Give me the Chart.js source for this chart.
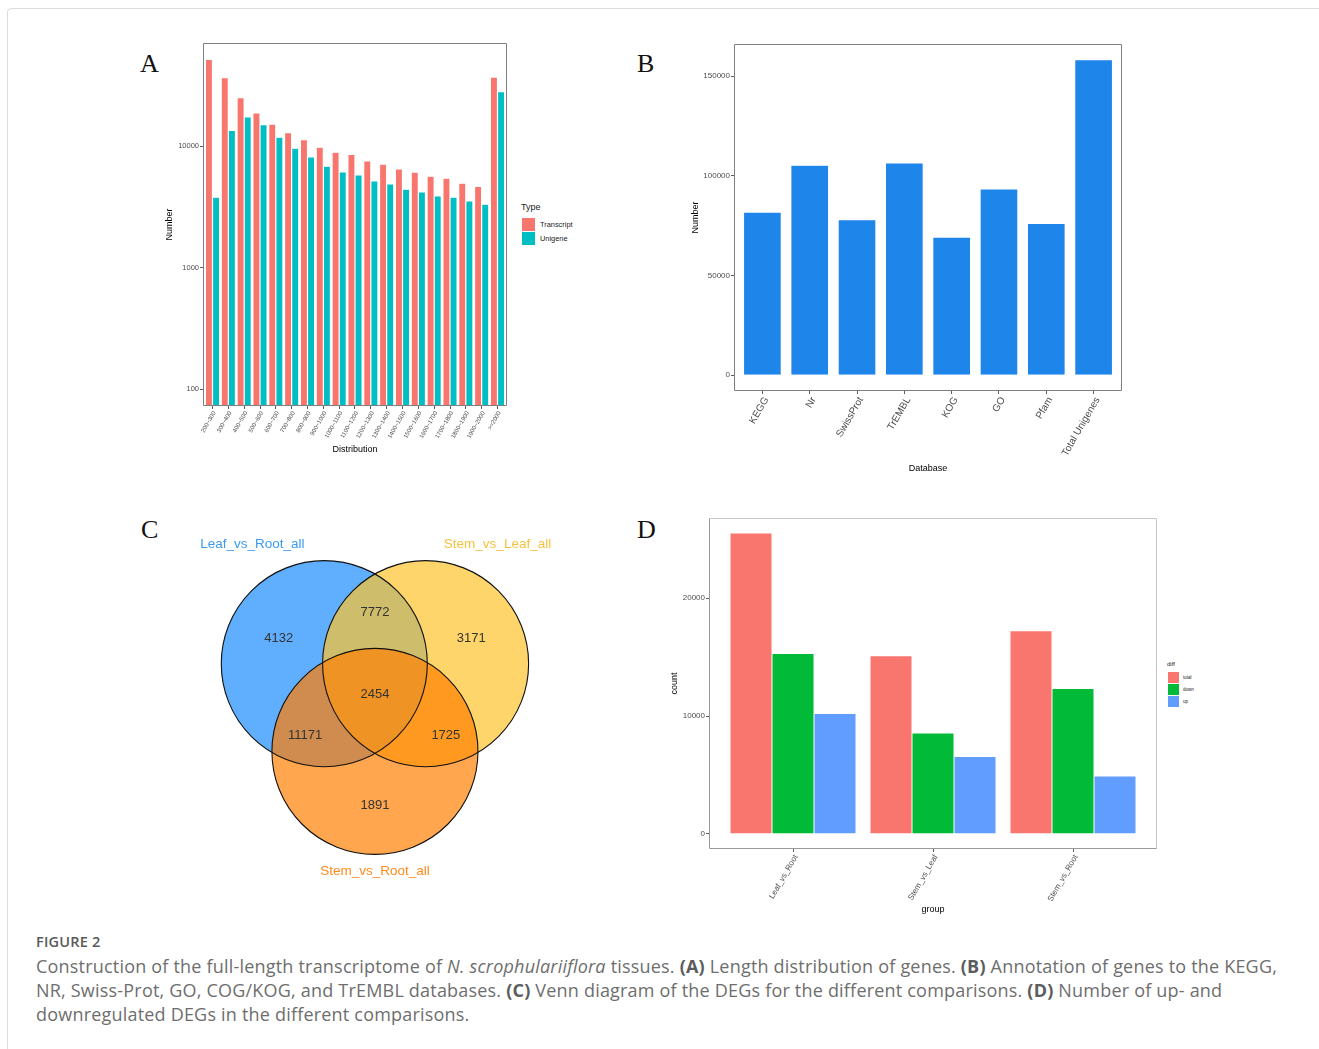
<!DOCTYPE html>
<html lang="en">
<head>
<meta charset="UTF-8">
<title>Figure 2</title>
<script src="https://cdn.jsdelivr.net/npm/chart.js"></script>
<style>
  body {
    margin: 0;
    width: 1319px;
    height: 1049px;
    position: relative;
    overflow: hidden;
    background: #fff;
    font-family: "Liberation Sans", Arial, sans-serif;
  }
  #frame {
    position: absolute;
    left: 7px;
    top: 8px;
    width: 1340px;
    height: 1070px;
    border: 1px solid #dcdcdc;
    border-radius: 4px;
  }
  canvas { position: absolute; }
  .letter {
    position: absolute;
    font-family: "Liberation Serif", "DejaVu Serif", serif;
    font-size: 26px;
    line-height: 26px;
    color: #111;
  }
  .legend { position: absolute; color: #222; }
  .legend .key { position: absolute; }
  .legend .lbl { position: absolute; white-space: nowrap; }
  #figlabel {
    position: absolute;
    left: 36px;
    top: 934px;
    font-family: "Open Sans", sans-serif;
    font-size: 14.5px;
    line-height: 16px;
    font-weight: 600;
    letter-spacing: 0.2px;
    color: #5a5a5a;
  }
  #caption {
    position: absolute;
    left: 36px;
    top: 954px;
    font-family: "Open Sans", sans-serif;
    font-size: 18px;
    line-height: 24px;
    letter-spacing: 0.2px;
    color: #6e6e6e;
    white-space: nowrap;
  }
  #caption b { font-weight: 700; color: #5c5c5c; }
</style>
</head>
<body>
<div id="frame"></div>

<div class="letter" style="left:140px;top:51px">A</div>
<div class="letter" style="left:637px;top:51px">B</div>
<div class="letter" style="left:141px;top:517px">C</div>
<div class="letter" style="left:637px;top:517px">D</div>

<canvas id="chartA" width="357" height="422" style="left:155px;top:33px"></canvas>
<canvas id="chartB" width="437" height="445" style="left:690px;top:34px"></canvas>
<canvas id="chartC" width="460" height="380" style="left:130px;top:510px"></canvas>
<canvas id="chartD" width="502" height="412" style="left:660px;top:508px"></canvas>

<div class="legend" id="legendA" style="left:521px;top:202px"></div>
<div class="legend" id="legendD" style="left:1167px;top:660px"></div>

<div id="figlabel">FIGURE 2</div>
<div id="caption">
  <div>Construction of the full-length transcriptome of <i>N. scrophulariiflora</i> tissues. <b>(A)</b> Length distribution of genes. <b>(B)</b> Annotation of genes to the KEGG,</div>
  <div>NR, Swiss-Prot, GO, COG/KOG, and TrEMBL databases. <b>(C)</b> Venn diagram of the DEGs for the different comparisons. <b>(D)</b> Number of up- and</div>
  <div>downregulated DEGs in the different comparisons.</div>
</div>

<script>
// ---- panel A: length distribution (log scale) ----
const distCats = ['200~300', '300~400', '400~500', '500~600', '600~700', '700~800', '800~900',
  '900~1000', '1000~1100', '1100~1200', '1200~1300', '1300~1400', '1400~1500', '1500~1600',
  '1600~1700', '1700~1800', '1800~1900', '1900~2000', '>=2000'];
const transcriptCounts = [51700, 36500, 25000, 18800, 15200, 12900, 11300, 9800, 8930, 8540,
  7570, 7110, 6500, 6110, 5660, 5450, 4960, 4660, 37000];
const unigeneCounts = [3800, 13500, 17400, 15000, 11860, 9630, 8170, 6840, 6150, 5810,
  5180, 4900, 4430, 4210, 3900, 3800, 3550, 3330, 28000];
const distTicks = [100, 1000, 10000];
const typeNames = ['Transcript', 'Unigene'];

// ---- panel B: database annotation ----
const dbCats = ['KEGG', 'Nr', 'SwissProt', 'TrEMBL', 'KOG', 'GO', 'Pfam', 'Total Unigenes'];
const dbCounts = [81800, 105300, 78000, 106500, 69300, 93500, 76200, 158200];
const dbTicks = [0, 50000, 100000, 150000];

// ---- panel C: venn ----
const vennSets = ['Leaf_vs_Root_all', 'Stem_vs_Leaf_all', 'Stem_vs_Root_all'];
// regions: L only, L&SL, SL only, all, L&SR, SL&SR, SR only
const vennCounts = [4132, 7772, 3171, 2454, 11171, 1725, 1891];

// ---- panel D: DEG counts ----
const groupCats = ['Leaf_vs_Root', 'Stem_vs_Leaf', 'Stem_vs_Root'];
const diffNames = ['total', 'down', 'up'];
const totalCounts = [25529, 15122, 17241];
const downCounts = [15300, 8560, 12330];
const upCounts = [10229, 6562, 4911];
const groupTicks = [0, 10000, 20000];

// colours
const typeColours = ['#F8766D', '#00BFC4'];
const dbColour = '#1E85EB';
const diffColours = ['#F8766D', '#00BA38', '#619CFF'];
const vennColours = ['#60AEFE', '#FDD56A', '#FFA64E'];
const vennSetColours = ['#3A9AF2', '#F5C23E', '#FF8A1C'];
const vennOverlaps = [
  {sets: [0, 1], colour: '#CEBD6A'},
  {sets: [0, 2], colour: '#CF8C4E'},
  {sets: [1, 2], colour: '#FF991F'},
  {sets: [0, 1, 2], colour: '#EF9424'}
];

// venn geometry in circle-centre units (equilateral layout)
const vennCentres = [[-0.5, 0.2887], [0.5, 0.2887], [0, -0.5774]];
const vennRadius = 1.017;
const vennRegionPos = [[-0.95, 0.537], [0, 0.797], [0.95, 0.537], [0, -0.013], [-0.69, -0.423], [0.70, -0.423], [0, -1.113]];
const vennSetPos = [[-1.21, 1.465], [1.21, 1.465], [0, -1.765]];

Chart.defaults.font.family = '"Liberation Sans", Arial, sans-serif';
Chart.defaults.color = '#4d4d4d';

// panel border like ggplot
const framePlugin = {
  id: 'frame',
  afterDraw(chart, args, opts) {
    const {ctx, chartArea: a} = chart;
    ctx.save();
    ctx.lineWidth = 1;
    const side = (c, x1, y1, x2, y2) => {
      ctx.strokeStyle = c;
      ctx.beginPath();
      ctx.moveTo(x1, y1);
      ctx.lineTo(x2, y2);
      ctx.stroke();
    };
    const l = Math.round(a.left) + 0.5, r = Math.round(a.right) - 0.5;
    const t = Math.round(a.top) + 0.5, b = Math.round(a.bottom) - 0.5;
    side(opts.top || opts.color, l, t, r, t);
    side(opts.right || opts.color, r, t, r, b);
    side(opts.color, l, b, r, b);
    side(opts.color, l, t, l, b);
    ctx.restore();
  }
};

const tickGrid = {display: true, drawOnChartArea: false, drawTicks: true, tickLength: 3, color: '#333', lineWidth: 0.8, offset: false};

function discreteX(cats, o) {
  return {
    type: 'linear',
    bounds: 'data',
    offset: false,
    min: -0.6,
    max: cats.length - 1 + 0.6,
    afterBuildTicks: s => { s.ticks = cats.map((c, i) => ({value: i})); },
    afterFit: s => { s.height = o.height; },
    grid: tickGrid,
    border: {display: false},
    ticks: {autoSkip: false, minRotation: o.rot, maxRotation: o.rot, padding: 1, labelOffset: o.shift,
      color: '#4d4d4d', font: {size: o.tick}, callback: v => cats[v]},
    title: {display: true, text: o.title, color: '#000', font: {size: 9}, padding: {top: 0, bottom: o.titlePad}}
  };
}

function valueY(o) {
  return {
    type: o.type || 'linear',
    bounds: 'data',
    min: o.min,
    max: o.max,
    afterBuildTicks: s => { s.ticks = o.ticks.map(v => ({value: v})); },
    afterFit: s => { s.width = o.width; },
    grid: tickGrid,
    border: {display: false},
    ticks: {padding: 1, color: '#4d4d4d', font: {size: o.tick}, callback: v => String(v)},
    title: {display: true, text: o.title, color: '#000', font: {size: 9}, padding: {top: o.titlePad, bottom: 0}}
  };
}

const common = {
  responsive: false,
  animation: false,
  events: [],
  devicePixelRatio: 1
};

const asPoints = arr => arr.map((v, i) => ({x: i, y: v}));
const barEdge = {borderColor: 'rgba(255,255,255,0.85)', borderWidth: 0.6};

// A
new Chart(document.getElementById('chartA'), {
  type: 'bar',
  data: {
    datasets: [
      {label: typeNames[0], data: asPoints(transcriptCounts), backgroundColor: typeColours[0], ...barEdge},
      {label: typeNames[1], data: asPoints(unigeneCounts), backgroundColor: typeColours[1], ...barEdge}
    ]
  },
  options: {
    ...common,
    layout: {padding: {top: 10, right: 5, left: 0, bottom: 0}},
    datasets: {bar: {categoryPercentage: 0.9, barPercentage: 1}},
    scales: {
      x: discreteX(distCats, {height: 49, rot: 60, tick: 6, shift: 2, title: 'Distribution', titlePad: 0.5}),
      y: valueY({type: 'logarithmic', min: 73, max: 70500, ticks: distTicks, width: 48, tick: 7.5, title: 'Number', titlePad: 9.5})
    },
    plugins: {legend: {display: false}, tooltip: {enabled: false}, frame: {color: '#7f7f7f'}}
  },
  plugins: [framePlugin]
});

// B
new Chart(document.getElementById('chartB'), {
  type: 'bar',
  data: {
    datasets: [{label: 'Number', data: asPoints(dbCounts), backgroundColor: dbColour, ...barEdge}]
  },
  options: {
    ...common,
    layout: {padding: {top: 10, right: 5, left: 0, bottom: 0}},
    datasets: {bar: {categoryPercentage: 0.8, barPercentage: 1}},
    scales: {
      x: discreteX(dbCats, {height: 88, rot: 60, tick: 10, shift: 4, title: 'Database', titlePad: 4.6}),
      y: valueY({min: -7900, max: 166100, ticks: dbTicks, width: 44, tick: 8, title: 'Number', titlePad: 0.6})
    },
    plugins: {legend: {display: false}, tooltip: {enabled: false}, frame: {color: '#7f7f7f'}}
  },
  plugins: [framePlugin]
});

// C: venn drawn as scatter points with a large radius, overlaps and labels via plugin
const pxPerUnit = chart => Math.abs(chart.scales.x.getPixelForValue(1) - chart.scales.x.getPixelForValue(0));

const vennPlugin = {
  id: 'venn',
  afterDatasetsDraw(chart) {
    const ctx = chart.ctx;
    const pts = chart.getDatasetMeta(0).data;
    const circle = p => {
      ctx.beginPath();
      ctx.arc(p.x, p.y, p.options.radius, 0, Math.PI * 2);
    };
    vennOverlaps.forEach(o => {
      ctx.save();
      o.sets.slice(0, -1).forEach(i => { circle(pts[i]); ctx.clip(); });
      circle(pts[o.sets[o.sets.length - 1]]);
      ctx.fillStyle = o.colour;
      ctx.fill();
      ctx.restore();
    });
    ctx.save();
    ctx.strokeStyle = '#111';
    ctx.lineWidth = 1.1;
    pts.forEach(p => { circle(p); ctx.stroke(); });
    const xs = chart.scales.x, ys = chart.scales.y;
    ctx.textAlign = 'center';
    ctx.textBaseline = 'middle';
    ctx.font = '13px "Liberation Sans", Arial, sans-serif';
    ctx.fillStyle = '#333';
    vennCounts.forEach((n, i) => {
      ctx.fillText(String(n), xs.getPixelForValue(vennRegionPos[i][0]), ys.getPixelForValue(vennRegionPos[i][1]));
    });
    ctx.font = '13.5px "Liberation Sans", Arial, sans-serif';
    vennSets.forEach((s, i) => {
      ctx.fillStyle = vennSetColours[i];
      ctx.fillText(s, xs.getPixelForValue(vennSetPos[i][0]), ys.getPixelForValue(vennSetPos[i][1]));
    });
    ctx.restore();
  }
};

new Chart(document.getElementById('chartC'), {
  type: 'scatter',
  data: {
    datasets: [{
      data: vennCentres.map(c => ({x: c[0], y: c[1]})),
      pointBackgroundColor: vennColours,
      pointBorderWidth: 0,
      pointRadius: ctx => vennRadius * pxPerUnit(ctx.chart),
      showLine: false,
      clip: false
    }]
  },
  options: {
    ...common,
    layout: {padding: 0},
    scales: {
      x: {type: 'linear', display: false, min: -2.418, max: 2.123},
      y: {type: 'linear', display: false, min: -1.946, max: 1.806}
    },
    plugins: {legend: {display: false}, tooltip: {enabled: false}}
  },
  plugins: [vennPlugin]
});

// D
new Chart(document.getElementById('chartD'), {
  type: 'bar',
  data: {
    datasets: [totalCounts, downCounts, upCounts].map((arr, k) => ({
      label: diffNames[k], data: asPoints(arr), backgroundColor: diffColours[k],
      borderColor: 'rgba(255,255,255,0.6)', borderWidth: 0.5
    }))
  },
  options: {
    ...common,
    layout: {padding: {top: 10, right: 5, left: 0, bottom: 0}},
    datasets: {bar: {categoryPercentage: 0.9, barPercentage: 1}},
    scales: {
      x: discreteX(groupCats, {height: 71, rot: 60, tick: 8, shift: 3, title: 'group', titlePad: 4.6}),
      y: valueY({min: -1276, max: 26805, ticks: groupTicks, width: 49, tick: 8, title: 'count', titlePad: 9.6})
    },
    plugins: {legend: {display: false}, tooltip: {enabled: false}, frame: {color: '#9a9a9a', top: '#c6c6c6', right: '#c6c6c6'}}
  },
  plugins: [framePlugin]
});

// ggplot-style legends
function buildLegend(id, title, names, colours, s) {
  const el = document.getElementById(id);
  let html = `<div class="lbl" style="left:0;top:0;font-size:${s.titleSize}px;line-height:${s.titleSize + 2}px">${title}</div>`;
  names.forEach((n, i) => {
    const top = s.first + i * s.step;
    html += `<div class="key" style="left:${s.keyLeft}px;top:${top}px;width:${s.key}px;height:${s.key}px;background:${colours[i]}"></div>`;
    html += `<div class="lbl" style="left:${s.keyLeft + s.key + s.gap}px;top:${top}px;font-size:${s.size}px;line-height:${s.key}px">${n}</div>`;
  });
  el.innerHTML = html;
}
buildLegend('legendA', 'Type', typeNames, typeColours, {titleSize: 9, size: 7.4, first: 16, step: 14, key: 13, keyLeft: 1, gap: 5});
buildLegend('legendD', 'diff', diffNames, diffColours, {titleSize: 6, size: 4.5, first: 12, step: 12, key: 11, keyLeft: 1, gap: 4});
</script>
</body>
</html>
